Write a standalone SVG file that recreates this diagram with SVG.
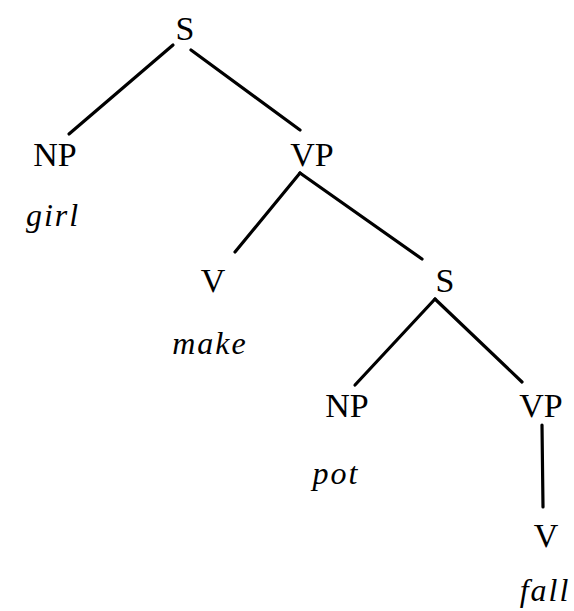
<svg xmlns="http://www.w3.org/2000/svg" width="574" height="611" viewBox="0 0 574 611">
<style>
.cat{font-family:"Liberation Serif",serif;font-size:34px;fill:#000;text-anchor:middle}
.word{font-family:"Liberation Serif",serif;font-style:italic;font-size:32px;letter-spacing:2px;fill:#000;text-anchor:middle}
.edge{stroke:#000;stroke-width:3.2;stroke-linecap:round;fill:none}
</style>
<rect width="574" height="611" fill="#fff"/>
<g id="connectors">
<line class="edge" x1="173" y1="45" x2="69" y2="134"/>
<line class="edge" x1="191" y1="50" x2="300" y2="130"/>
<line class="edge" x1="300" y1="173" x2="235" y2="252"/>
<line class="edge" x1="300" y1="173" x2="422" y2="259"/>
<line class="edge" x1="435" y1="299" x2="355" y2="385"/>
<line class="edge" x1="435" y1="299" x2="522" y2="382"/>
<line class="edge" x1="542" y1="425" x2="543" y2="507"/>
</g>
<g id="S1"><text class="cat" x="185" y="40">S</text></g>
<g id="NP1"><text class="cat" x="55" y="166">NP</text><text class="word" x="53" y="226">girl</text></g>
<g id="VP1"><text class="cat" x="312" y="166">VP</text></g>
<g id="V1"><text class="cat" x="213" y="292">V</text><text class="word" x="210" y="354">make</text></g>
<g id="S2"><text class="cat" x="445" y="292">S</text></g>
<g id="NP2"><text class="cat" x="347" y="417">NP</text><text class="word" x="336" y="484">pot</text></g>
<g id="VP2"><text class="cat" x="541" y="417">VP</text></g>
<g id="V2"><text class="cat" x="546" y="547">V</text><text class="word" x="545" y="601">fall</text></g>
</svg>
